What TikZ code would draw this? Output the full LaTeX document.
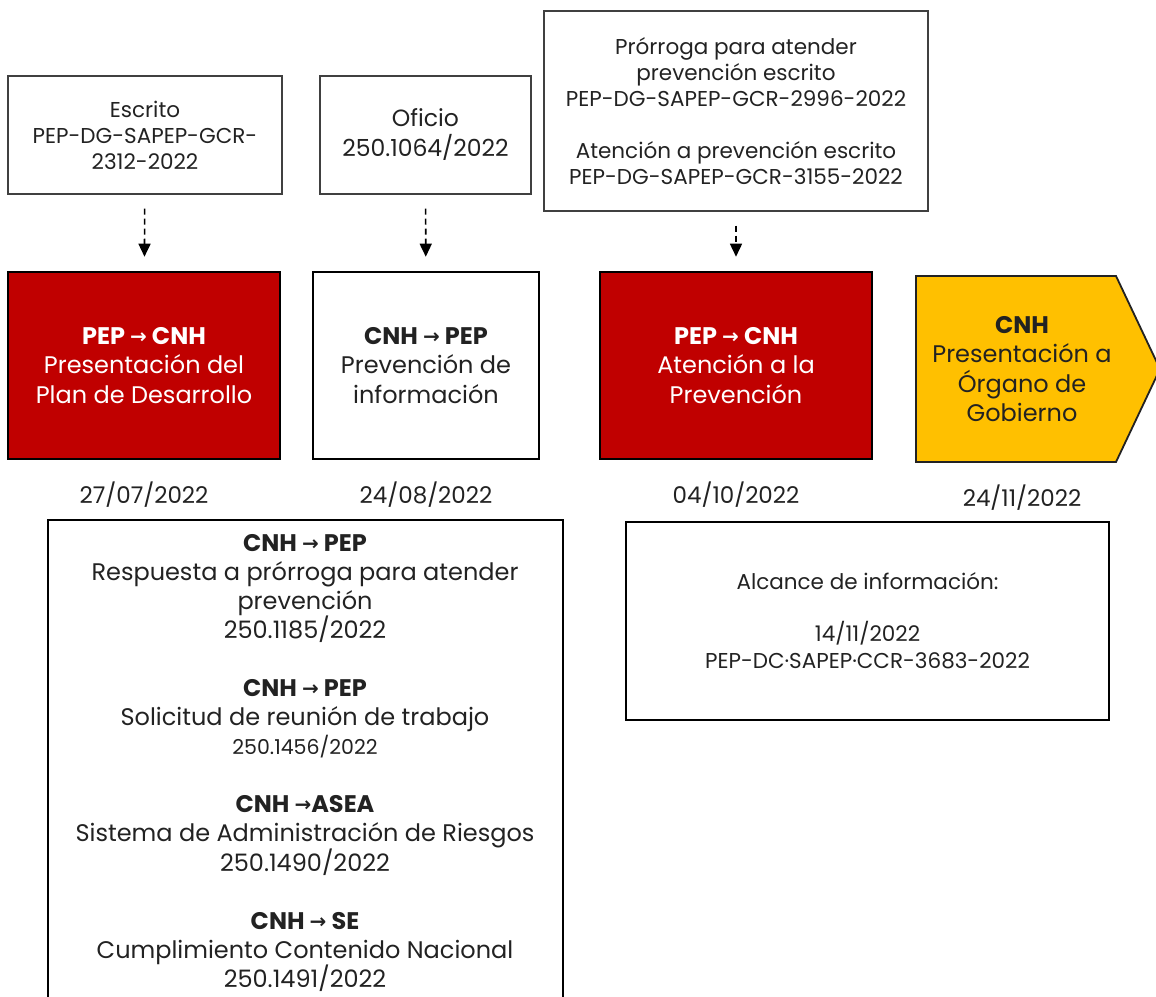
\documentclass[tikz,border=0pt]{standalone}
\usepackage{fontspec}
\setmainfont{Poppins}
\newfontfamily\arrowfont{DejaVu Sans}
\usetikzlibrary{arrows.meta,positioning}

\definecolor{pepred}{HTML}{C00000}
\definecolor{cnhyellow}{HTML}{FFC000}
\definecolor{inkgray}{HTML}{222222}
\definecolor{framegray}{HTML}{404040}

\newcommand{\toarrow}{{\arrowfont\bfseries\fontsize{20}{20}\selectfont\raisebox{1pt}{→}}}

\begin{document}
\begin{tikzpicture}[x=1pt, y=-1pt, node distance = 21pt,
  every node/.style = {text=inkgray, align=center},
  DocStyle/.style = {draw=framegray, line width=1.4pt, inner sep=0pt, font=\fontsize{21.5}{26}\selectfont},
  StageStyle/.style = {draw=black, line width=2.6pt, inner sep=0pt, font=\fontsize{24}{29.5}\selectfont},
  DateStyle/.style = {inner sep=0pt, font=\fontsize{23}{26}\selectfont},
  NoteStyle/.style = {draw=black, line width=1.8pt, inner sep=0pt},
  LinkStyle/.style = {-{Triangle[length=13pt, width=12pt]}, dashed, dash pattern=on 6pt off 4pt,
                      line width=1.6pt, shorten <=14pt, shorten >=14pt}]
\useasboundingbox (0,0) rectangle (1156,996);
% documents sent
\node[DocStyle, minimum width=274pt, minimum height=118pt] (escrito) at (145,135)
  {Escrito\\PEP-DG-SAPEP-GCR-\\2312-2022};
\node[DocStyle, minimum width=211pt, minimum height=118pt, font=\fontsize{23.5}{30}\selectfont] (oficio) at (425.5,135)
  {Oficio\\250.1064/2022};
\node[DocStyle, minimum width=384pt, minimum height=200pt] (prorroga) at (736,111)
  {Prórroga para atender\\prevención escrito\\PEP-DG-SAPEP-GCR-2996-2022\\[26pt]
   Atención a prevención escrito\\PEP-DG-SAPEP-GCR-3155-2022};
% stages
\node[StageStyle, fill=pepred, text=white, minimum width=272pt, minimum height=187pt] (presenta) at (144,365.5)
  {\textbf{PEP \toarrow{} CNH}\\Presentación del\\Plan de Desarrollo};
\node[StageStyle, fill=white, minimum width=226pt, minimum height=187pt] (previene) at (426,365.5)
  {\textbf{CNH \toarrow{} PEP}\\Prevención de\\información};
\node[StageStyle, fill=pepred, text=white, minimum width=272pt, minimum height=187pt] (atiende) at (736,365.5)
  {\textbf{PEP \toarrow{} CNH}\\Atención a la\\Prevención};
\filldraw[fill=cnhyellow, draw=inkgray, line width=1.8pt]
  (916,276) -- (1116,276) -- (1160,369) -- (1116,462) -- (916,462) -- cycle;
\node[inner sep=0pt, minimum width=200pt, minimum height=186pt, font=\fontsize{24}{29.5}\selectfont] (organo) at (1022,369)
  {\textbf{CNH}\\Presentación a\\Órgano de\\Gobierno};
% dates
\node[DateStyle, below=of presenta] (fecha1) {27/07/2022};
\node[DateStyle, below=of previene] (fecha2) {24/08/2022};
\node[DateStyle, below=of atiende] (fecha3) {04/10/2022};
\node[DateStyle, below=22pt of organo] (fecha4) {24/11/2022};
% links
\draw[LinkStyle] (escrito) -- (presenta);
\draw[LinkStyle] (oficio) -- (previene);
\draw[LinkStyle] (prorroga) -- (atiende);
% notes
\draw[NoteStyle] (48,520) rectangle (563,1010);
\node[font=\fontsize{24}{29}\selectfont] (oficios) at (305,763)
  {\textbf{CNH \toarrow{} PEP}\\Respuesta a prórroga para atender\\prevención\\250.1185/2022\\[29pt]
   \textbf{CNH \toarrow{} PEP}\\Solicitud de reunión de trabajo\\{\fontsize{20.5}{28}\selectfont 250.1456/2022}\\[29pt]
   \textbf{CNH \toarrow{}ASEA}\\Sistema de Administración de Riesgos\\250.1490/2022\\[29pt]
   \textbf{CNH \toarrow{} SE}\\Cumplimiento Contenido Nacional\\250.1491/2022};
\node[NoteStyle, minimum width=483pt, minimum height=198pt, font=\fontsize{21.5}{27}\selectfont] (alcance) at (867.5,621)
  {Alcance de información:\\[25pt]14/11/2022\\PEP-DC·SAPEP·CCR-3683-2022};
\end{tikzpicture}
\end{document}
